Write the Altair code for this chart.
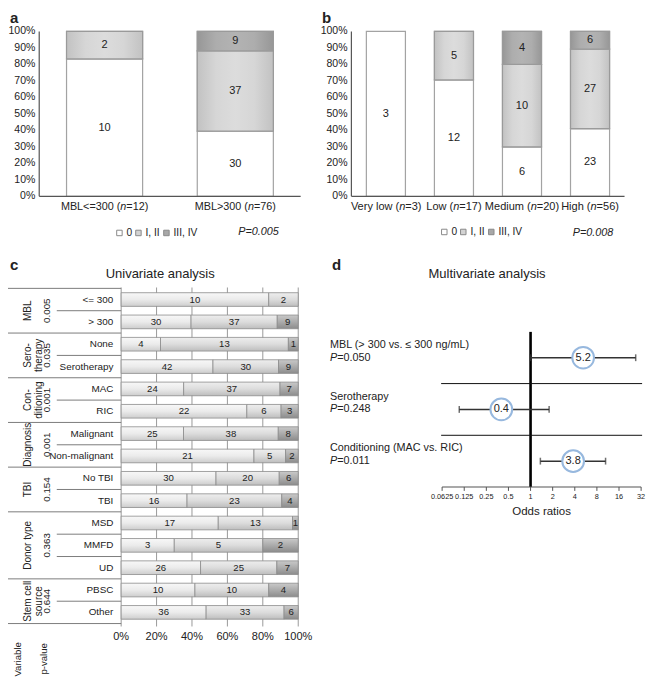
import altair as alt
import pandas as pd

S = 638 / 654.0
W, H = 638, 669
FONT = "Liberation Sans"
INK = "#222222"


def px(v):
    return round(v * S, 2)


# Arial / Liberation Sans advance widths (1/1000 em) used to place the italic "n"
AW = {" ": 278, "(": 333, ")": 333, "=": 584, "<": 584, ">": 584, "M": 833, "B": 667,
      "L": 556, "V": 667, "H": 722, "e": 556, "r": 333, "y": 500, "l": 222, "o": 556,
      "w": 722, "d": 556, "i": 222, "u": 556, "m": 833, "g": 556, "h": 556, "n": 556}


def tw(s, size):
    return sum(AW.get(c, 556) for c in s) * size / 1000.0


GRADES = ["0", "I, II", "III, IV"]

# ---------------- data ----------------
# panel a
a_groups = ["MBL<=300 (n=12)", "MBL>300 (n=76)"]
a_g0 = [10, 30]
a_g12 = [2, 37]
a_g34 = [0, 9]

# panel b
b_groups = ["Very low (n=3)", "Low (n=17)", "Medium (n=20)", "High (n=56)"]
b_g0 = [3, 12, 6, 23]
b_g12 = [0, 5, 10, 27]
b_g34 = [0, 0, 4, 6]

pct_ticks = [0, 0.1, 0.2, 0.3, 0.4, 0.5, 0.6, 0.7, 0.8, 0.9, 1.0]

# panel c
c_vars = ["MBL", "Sero-\ntherapy", "Con-\nditioning", "Diagnosis", "TBI", "Donor type", "Stem cell\nsource"]
c_pvals = ["0.005", "0.035", "0.001", "0.001", "0.154", "0.363", "0.644"]
c_rows = [["<= 300", "> 300"], ["None", "Serotherapy"], ["MAC", "RIC"],
          ["Malignant", "Non-malignant"], ["No TBI", "TBI"], ["MSD", "MMFD", "UD"],
          ["PBSC", "Other"]]
c_g0 = [10, 30, 4, 42, 24, 22, 25, 21, 30, 16, 17, 3, 26, 10, 36]
c_g12 = [2, 37, 13, 30, 37, 6, 38, 5, 20, 23, 13, 5, 25, 10, 33]
c_g34 = [0, 9, 1, 9, 7, 3, 8, 2, 6, 4, 1, 2, 7, 4, 6]
c_ticks = [0, 0.2, 0.4, 0.6, 0.8, 1.0]

# panel d
d_labels = ["MBL (> 300 vs. \u2264 300 ng/mL)", "Serotherapy", "Conditioning (MAC vs. RIC)"]
d_pvals = ["0.050", "0.248", "0.011"]
d_or = [5.2, 0.4, 3.8]
d_lo = [1.0, 0.107, 1.36]
d_hi = [27.0, 1.79, 10.5]
d_ticks = [0.0625, 0.125, 0.25, 0.5, 1, 2, 4, 8, 16, 32]
d_ref = [1]


def stack_long(groups, g0, g12, g34, key):
    recs = []
    for i, g in enumerate(groups):
        for k, (grade, vals) in enumerate(zip(GRADES, (g0, g12, g34))):
            if vals[i] > 0:
                recs.append({key: g, "grade": grade, "order": k, "n": vals[i]})
    return pd.DataFrame(recs)


def stacked_base(df, key):
    return (alt.Chart(df)
            .transform_stack(stack="n", groupby=[key], as_=["s0", "s1"], offset="normalize",
                             sort=[alt.SortField("order", order="ascending")])
            .transform_calculate(mid="(datum.s0 + datum.s1) / 2"))


def lin_grad(stops, horizontal):
    n = len(stops)
    gs = [alt.GradientStop(offset=round(i / (n - 1), 3), color=c) for i, c in enumerate(stops)]
    if horizontal:
        return alt.LinearGradient(gradient="linear", x1=0, y1=0, x2=1, y2=0, stops=gs)
    return alt.LinearGradient(gradient="linear", x1=0, y1=0, x2=0, y2=1, stops=gs)


AB_GRAD = {
    "I, II": ["#c2c2c2", "#d6d6d6", "#dcdcdc", "#d6d6d6", "#c2c2c2"],
    "III, IV": ["#979797", "#adadad", "#b3b3b3", "#adadad", "#979797"],
}


def vertical_panel(df, groups, x0, x1, pin, pout, lx, ly, lab_size):
    xs = alt.Scale(domain=groups, range=[px(x0), px(x1)], paddingInner=pin, paddingOuter=pout)
    ys = alt.Scale(domain=[0, 1], range=[px(193), px(24)])
    cs = alt.Scale(domain=GRADES, range=["#ffffff", "#d3d3d3", "#a8a8a8"])
    base = stacked_base(df, "group")
    bars = base.mark_bar(stroke="#a3a3a3", strokeWidth=1.2).encode(
        x=alt.X("group:N", scale=xs, axis=None),
        y=alt.Y("s0:Q", scale=ys, axis=None),
        y2="s1:Q",
        color=alt.Color("grade:N", scale=cs,
                        legend=alt.Legend(orient="none", legendX=px(lx), legendY=px(ly),
                                          direction="horizontal", title=None, symbolType="square",
                                          symbolSize=30, labelFontSize=10.2, labelFont=FONT,
                                          labelColor=INK, columnPadding=1, labelOffset=2,
                                          symbolStrokeColor="#8a8a8a", symbolStrokeWidth=1,
                                          padding=0)),
        order=alt.Order("order:Q"))
    layers = [bars]
    for grade, stops in AB_GRAD.items():
        layers.append(
            base.transform_filter(alt.datum.grade == grade)
            .mark_bar(stroke="#9a9a9a", strokeWidth=1.2, color=lin_grad(stops, True))
            .encode(x=alt.X("group:N", scale=xs, axis=None),
                    y=alt.Y("s0:Q", scale=ys, axis=None), y2="s1:Q"))
    text = base.mark_text(font=FONT, fontSize=11, color=INK).encode(
        x=alt.X("group:N", scale=xs, axis=None),
        y=alt.Y("mid:Q", scale=ys, axis=None),
        text=alt.Text("n:Q"))
    layers.append(text)
    # y axis (drawn from the scale)
    layers.append(alt.Chart(pd.DataFrame({"v": pct_ticks})).mark_text(
        font=FONT, fontSize=10.5, align="right", baseline="middle", color=INK).encode(
        y=alt.Y("v:Q", scale=ys, axis=None), x=alt.value(px(x0 - 4)),
        text=alt.Text("v:Q", format=".0%")))
    layers.append(alt.Chart(pd.DataFrame({"v": [0]})).mark_rule(color="#555555", strokeWidth=1.2).encode(
        x=alt.value(px(x0)), y=alt.Y(datum=0, type="quantitative", scale=ys, axis=None),
        y2=alt.Y2(datum=1)))
    layers.append(alt.Chart(pd.DataFrame({"v": [0]})).mark_rule(color="#555555", strokeWidth=1.2).encode(
        x=alt.value(px(x0)), x2=alt.value(px(x1)),
        y=alt.Y(datum=0, type="quantitative", scale=ys, axis=None)))
    # category labels with italic "n"
    for g in groups:
        pre, suf = g.split("(n")
        pre = pre + "("
        wp, wn, wsuf = tw(pre, lab_size), tw("n", lab_size), tw(suf, lab_size)
        start = -(wp + wn + wsuf) / 2.0
        one = alt.Chart(pd.DataFrame({"group": [g]}))
        enc = dict(x=alt.X("group:N", scale=xs, axis=None), y=alt.value(px(204)))
        layers.append(one.mark_text(font=FONT, fontSize=lab_size, align="right", baseline="middle",
                                    color=INK, text=pre, dx=round(start + wp, 2)).encode(**enc))
        layers.append(one.mark_text(font=FONT, fontSize=lab_size, align="left", baseline="middle",
                                    fontStyle="italic", color=INK, text="n",
                                    dx=round(start + wp, 2)).encode(**enc))
        layers.append(one.mark_text(font=FONT, fontSize=lab_size, align="left", baseline="middle",
                                    color=INK, text=suf, dx=round(start + wp + wn, 2)).encode(**enc))
    return alt.layer(*layers)


# ---------------- panel a / b ----------------
panel_a = vertical_panel(stack_long(a_groups, a_g0, a_g12, a_g34, "group"), a_groups,
                         32, 300, 0.418, 0.209, 109, 225, 10.8)
panel_b = vertical_panel(stack_long(b_groups, b_g0, b_g12, b_g34, "group"), b_groups,
                         352, 632, 0.426, 0.22, 442, 224, 11)

# ---------------- panel c ----------------
c_all = [r for g in c_rows for r in g]
c_df = stack_long(c_all, c_g0, c_g12, c_g34, "row")
cy = alt.Scale(domain=c_all, range=[px(287.4), px(631)], paddingInner=0, paddingOuter=0)
cx = alt.Scale(domain=[0, 1], range=[px(116), px(297.5)])

C_GRAD = {
    "0": ["#f8f8f8", "#ebebeb", "#cdcdcd"],
    "I, II": ["#eeeeee", "#dcdcdc", "#bdbdbd"],
    "III, IV": ["#c9c9c9", "#ababab", "#8c8c8c"],
}

c_grid = alt.Chart(pd.DataFrame({"v": c_ticks})).mark_rule(color="#9a9a9a", strokeWidth=1).encode(
    x=alt.X("v:Q", scale=cx, axis=None),
    y=alt.value(px(286.5)), y2=alt.value(px(634)))
c_xlab = alt.Chart(pd.DataFrame({"v": c_ticks})).mark_text(
    font=FONT, fontSize=11, baseline="middle", color=INK).encode(
    x=alt.X("v:Q", scale=cx, axis=None), y=alt.value(px(645)),
    text=alt.Text("v:Q", format=".0%"))
c_ylab = alt.Chart(pd.DataFrame({"row": c_all})).mark_text(
    font=FONT, fontSize=9.9, align="right", baseline="middle", color=INK).encode(
    y=alt.Y("row:N", scale=cy, axis=None), x=alt.value(px(108)), text="row:N")

c_base = stacked_base(c_df, "row")
c_bar_layers = []
for grade in GRADES:
    c_bar_layers.append(
        c_base.transform_filter(alt.datum.grade == grade)
        .mark_bar(size=px(14), stroke="#8c8c8c", strokeWidth=0.8,
                  color=lin_grad(C_GRAD[grade], False))
        .encode(y=alt.Y("row:N", scale=cy, axis=None),
                x=alt.X("s0:Q", scale=cx, axis=None), x2="s1:Q"))
c_text = c_base.mark_text(font=FONT, fontSize=9.6, color=INK).encode(
    y=alt.Y("row:N", scale=cy, axis=None),
    x=alt.X("mid:Q", scale=cx, axis=None),
    text=alt.Text("n:Q"))

inner_rows = [g[i] for g in c_rows for i in range(1, len(g))]
first_rows = [g[0] for g in c_rows]
c_inner = alt.Chart(pd.DataFrame({"row": inner_rows})).mark_rule(color="#7d7d7d", strokeWidth=1).encode(
    y=alt.Y("row:N", scale=cy, bandPosition=0, axis=None),
    x=alt.value(px(50)), x2=alt.value(px(116)))
c_outer = alt.Chart(pd.DataFrame({"row": first_rows})).mark_rule(color="#7d7d7d", strokeWidth=1).encode(
    y=alt.Y("row:N", scale=cy, bandPosition=0, axis=None),
    x=alt.value(0), x2=alt.value(px(116)))
c_bottom = alt.Chart(pd.DataFrame({"row": [c_all[-1]]})).mark_rule(color="#7d7d7d", strokeWidth=1).encode(
    y=alt.Y("row:N", scale=cy, bandPosition=1, axis=None),
    x=alt.value(0), x2=alt.value(px(116)))

two_df = pd.DataFrame([{"var": v, "p": p, "anchor": g[0]}
                       for v, p, g in zip(c_vars, c_pvals, c_rows) if len(g) == 2])
three_df = pd.DataFrame([{"var": v, "p": p, "anchor": g[1]}
                         for v, p, g in zip(c_vars, c_pvals, c_rows) if len(g) == 3])


def group_labels(df, band):
    lab = alt.Chart(df).mark_text(font=FONT, fontSize=10, angle=270, lineBreak="\n", lineHeight=11,
                                  align="center", baseline="middle", color=INK).encode(
        y=alt.Y("anchor:N", scale=cy, bandPosition=band, axis=None),
        x=alt.value(px(20)), text="var:N")
    pv = alt.Chart(df).mark_text(font=FONT, fontSize=9.8, angle=270, align="center",
                                 baseline="middle", color=INK).encode(
        y=alt.Y("anchor:N", scale=cy, bandPosition=band, axis=None),
        x=alt.value(px(40)), text="p:N")
    return [lab, pv]


panel_c = alt.layer(c_grid, *c_bar_layers, c_text, c_inner, c_outer, c_bottom, c_xlab, c_ylab,
                    *group_labels(two_df, 1), *group_labels(three_df, 0.5))

# ---------------- panel d ----------------
d_df = pd.DataFrame({"label": d_labels, "p": d_pvals, "or": d_or, "lo": d_lo, "hi": d_hi})
dx = alt.Scale(type="log", base=2, domain=[0.0625, 32], range=[px(445), px(649)])
dy = alt.Scale(domain=d_labels, range=[px(332), px(491)], paddingInner=0, paddingOuter=0)

d_refline = alt.Chart(pd.DataFrame({"v": d_ref})).mark_rule(color="#000000", strokeWidth=2.6).encode(
    x=alt.X("v:Q", scale=dx, axis=None),
    y=alt.value(px(332)), y2=alt.value(px(491)))
d_tick_df = alt.Chart(pd.DataFrame({"v": d_ticks})).transform_calculate(lab="'' + datum.v")
d_axis_line = alt.Chart(pd.DataFrame({"v": [0]})).mark_rule(color="#555555", strokeWidth=1.2).encode(
    x=alt.X(datum=d_ticks[0], type="quantitative", scale=dx, axis=None),
    x2=alt.X2(datum=d_ticks[-1]), y=alt.value(px(491)))
d_tickmarks = d_tick_df.mark_rule(color="#555555", strokeWidth=1).encode(
    x=alt.X("v:Q", scale=dx, axis=None), y=alt.value(px(491)), y2=alt.value(px(495)))
d_ticklabs = d_tick_df.mark_text(font=FONT, fontSize=7.3, baseline="middle", color=INK).encode(
    x=alt.X("v:Q", scale=dx, axis=None), y=alt.value(px(501)), text="lab:N")
d_sep = alt.Chart(pd.DataFrame({"label": d_labels[:2]})).mark_rule(color="#111", strokeWidth=1).encode(
    y=alt.Y("label:N", scale=dy, bandPosition=1, axis=None),
    x=alt.value(px(444)), x2=alt.value(px(650)))
d_base = alt.Chart(d_df)
d_ci = d_base.mark_rule(color="#333333", strokeWidth=1.5).encode(
    x=alt.X("lo:Q", scale=dx, axis=None), x2="hi:Q",
    y=alt.Y("label:N", scale=dy, axis=None))
d_cap_lo = d_base.mark_tick(color="#333333", thickness=1.5, size=px(7)).encode(
    x=alt.X("lo:Q", scale=dx, axis=None), y=alt.Y("label:N", scale=dy, axis=None))
d_cap_hi = d_base.mark_tick(color="#333333", thickness=1.5, size=px(7)).encode(
    x=alt.X("hi:Q", scale=dx, axis=None), y=alt.Y("label:N", scale=dy, axis=None))
d_pt = d_base.mark_point(shape="circle", size=470, filled=True, fill="white", stroke="#97b8de",
                         strokeWidth=2, opacity=1).encode(
    x=alt.X("or:Q", scale=dx, axis=None), y=alt.Y("label:N", scale=dy, axis=None))
d_val = d_base.mark_text(font=FONT, fontSize=11, color=INK).encode(
    x=alt.X("or:Q", scale=dx, axis=None), y=alt.Y("label:N", scale=dy, axis=None),
    text=alt.Text("or:Q", format=".1f"))
d_lab = d_base.mark_text(font=FONT, fontSize=10.8, align="left", dy=-px(13), color=INK).encode(
    x=alt.value(px(330)), y=alt.Y("label:N", scale=dy, axis=None), text="label:N")
d_P = d_base.mark_text(font=FONT, fontSize=10.8, align="left", fontStyle="italic", text="P",
                       color=INK).encode(
    x=alt.value(px(330)), y=alt.Y("label:N", scale=dy, axis=None))
d_pv = d_base.transform_calculate(pt="'=' + datum.p").mark_text(
    font=FONT, fontSize=10.8, align="left", color=INK).encode(
    x=alt.value(px(337.5)), y=alt.Y("label:N", scale=dy, axis=None), text="pt:N")

panel_d = alt.layer(d_refline, d_axis_line, d_tickmarks, d_ticklabs, d_sep, d_ci, d_cap_lo,
                    d_cap_hi, d_pt, d_val, d_lab, d_P, d_pv)


# ---------------- annotations ----------------
def note(txt, x, y, size=13, weight="normal", style="normal", align="left"):
    return alt.Chart(pd.DataFrame({"t": [txt]})).mark_text(
        font=FONT, fontSize=size, fontWeight=weight, fontStyle=style, align=align,
        baseline="middle", color=INK).encode(
        x=alt.value(px(x)), y=alt.value(px(y)), text="t:N")


def vnote(txt, x, y):
    return alt.Chart(pd.DataFrame({"t": [txt]})).mark_text(
        font=FONT, fontSize=9.6, angle=270, align="right", baseline="middle", color=INK).encode(
        x=alt.value(px(x)), y=alt.value(px(y)), text="t:N")


notes = [
    note("a", 2, 10, 15, "bold"), note("b", 322, 10, 15, "bold"),
    note("c", 2, 263, 15, "bold"), note("d", 332, 263, 15, "bold"),
    note("Univariate analysis", 156, 273, 13, align="center"),
    note("Multivariate analysis", 491, 273, 13, align="center"),
    note("Odds ratios", 547, 517, 11.5, align="center"),
    note("P=0.005", 236, 230, 10.8, style="italic"),
    note("P=0.008", 579, 231, 10.8, style="italic"),
    vnote("Variable", 10, 650), vnote("p-value", 37, 651),
]

chart = (alt.layer(panel_a, panel_b, panel_c, panel_d, *notes)
         .resolve_scale(x="independent", y="independent", color="independent")
         .properties(width=W, height=H, autosize=alt.AutoSizeParams(type="none"), padding=0)
         .configure_view(stroke=None))

chart.save("out.html", embed_options={"renderer": "svg", "actions": False})
